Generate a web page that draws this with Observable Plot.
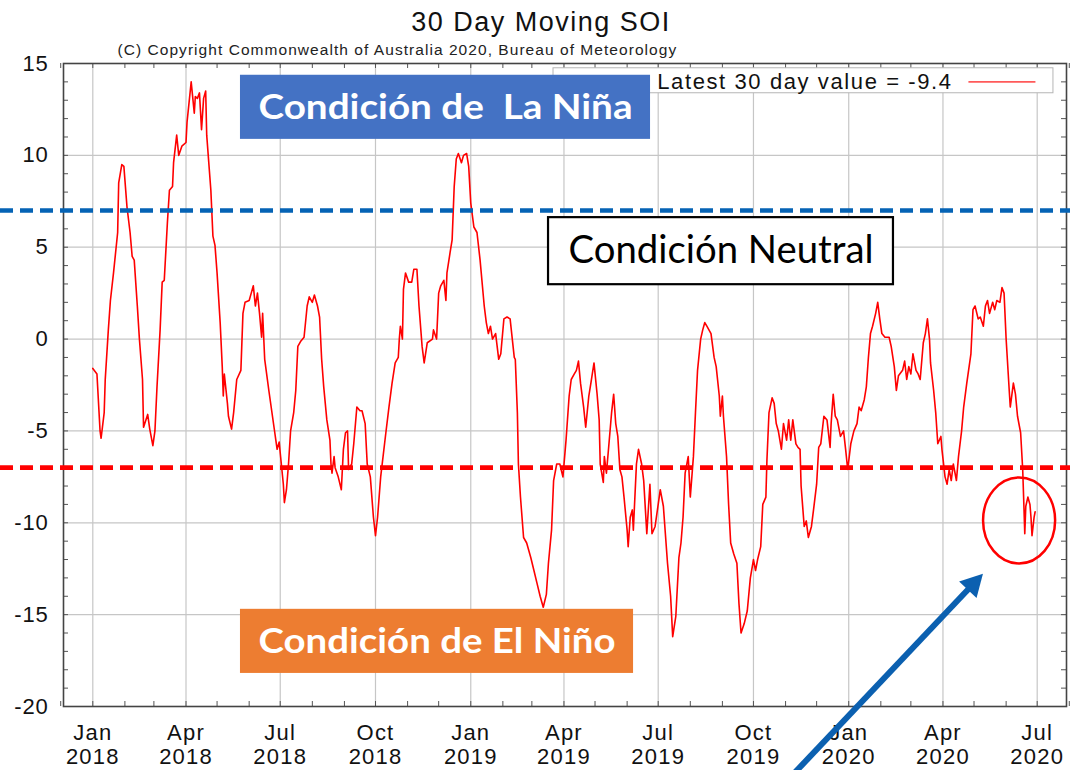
<!DOCTYPE html>
<html>
<head>
<meta charset="utf-8">
<script src="https://cdn.jsdelivr.net/npm/d3@7"></script>
<script src="https://cdn.jsdelivr.net/npm/@observablehq/plot@0.6"></script>
<style>
  html, body { margin: 0; padding: 0; background: #fff; }
  #chart svg { display: block; }
</style>
</head>
<body>
<div id="chart"></div>
<script>
// ---------- DATA ----------
// day offsets counted from 1 Jan 2018 (UTC)
const seriesStart = Date.UTC(2018, 0, 1);
const dayOffsets = [
  0,4,7,8,11,12,15,17,20,24,
  25,28,30,33,36,38,40,43,45,48,
  49,53,55,58,60,62,65,67,69,72,
  74,77,78,81,83,86,90,91,93,95,
  98,99,101,103,105,107,109,110,114,116,
  118,120,123,125,126,127,130,131,134,136,
  139,143,145,147,151,153,155,157,159,161,
  163,164,166,170,175,178,180,181,184,185,
  187,189,191,194,196,198,201,204,207,209,
  212,214,217,219,221,223,226,229,230,231,
  233,234,237,240,242,244,246,247,250,252,
  255,258,260,263,265,268,271,273,275,278,
  283,286,289,292,295,296,297,299,300,302,
  305,308,310,313,315,318,320,323,328,329,
  332,334,336,339,341,342,345,347,349,351,
  353,356,358,361,363,365,368,371,374,378,
  380,382,384,386,389,392,394,397,400,403,
  407,408,410,411,413,416,419,423,426,429,
  432,435,438,440,443,445,448,451,454,457,
  460,462,465,467,469,471,474,476,479,481,
  484,487,489,490,493,494,496,498,501,503,
  505,507,509,511,513,516,517,519,521,522,
  525,527,530,532,535,538,540,543,548,551,
  555,558,560,563,566,568,570,572,575,577,
  580,582,584,587,589,591,593,597,600,602,
  605,606,608,609,612,614,616,619,622,624,
  626,629,632,635,638,640,642,645,647,650,
  651,653,656,658,660,662,665,667,670,672,
  674,676,679,681,683,684,687,689,691,694,
  696,699,701,703,706,709,712,713,715,717,
  719,722,725,727,729,732,735,738,740,742,
  745,747,749,751,753,756,758,760,762,765,
  769,771,774,776,778,782,784,786,788,790,
  792,795,797,799,802,804,806,808,809,812,
  814,816,819,820,823,825,827,829,831,834,
  836,839,841,844,848,850,852,855,857,860,
  862,864,866,869,871,873,876,878,880,882,
  885,886,889,891,893,896,898,899,900,901,
  903,905,906,907,909,910
];
const soiValues = [
  -1.6,-1.9,-5.0,-5.4,-4.0,-2.2,0.5,2.1,3.6,5.8,
  8.5,9.5,9.4,7.2,5.8,4.5,4.3,1.8,0.0,-2.2,
  -4.8,-4.1,-4.9,-5.8,-5.0,-2.6,0.5,3.1,3.2,6.3,
  8.1,8.3,9.6,11.1,10.0,10.5,10.7,11.8,12.9,14.0,
  12.3,13.2,13.1,13.4,11.4,13.1,13.5,11.1,8.1,5.6,
  5.1,3.6,0.9,-1.5,-3.1,-1.9,-3.5,-4.2,-4.9,-4.0,
  -2.2,-1.7,1.4,2.0,2.1,2.5,2.9,1.8,2.5,1.4,
  0.1,1.4,-1.1,-2.8,-4.8,-6.0,-5.6,-6.2,-7.9,-8.9,
  -8.2,-6.8,-5.0,-4.0,-2.8,-0.4,-0.1,0.1,1.8,2.3,
  2.0,2.4,1.8,1.2,-1.1,-2.6,-4.4,-5.5,-6.8,-7.3,
  -6.4,-7.0,-7.5,-8.2,-6.0,-5.1,-5.0,-7.1,-6.8,-5.7,
  -3.7,-3.9,-3.9,-4.6,-6.8,-7.5,-9.7,-10.7,-9.7,-7.5,
  -5.1,-3.7,-2.4,-1.3,-1.0,0.0,0.7,0.0,2.7,3.6,
  3.1,3.1,3.8,3.8,1.8,-0.4,-1.3,-0.2,0.0,0.5,
  0.0,2.5,2.9,3.2,2.1,3.6,4.7,5.4,8.3,9.8,
  10.1,9.6,10.0,10.1,9.4,7.4,6.1,5.8,4.3,1.8,
  0.9,0.3,0.7,0.0,0.3,-1.1,-0.8,1.1,1.2,1.1,
  -1.0,-1.1,-4.0,-6.8,-8.6,-10.8,-11.1,-11.9,-12.6,-13.3,
  -14.0,-14.6,-13.9,-12.2,-10.4,-7.7,-6.8,-6.8,-7.5,-5.5,
  -3.1,-2.2,-1.9,-1.7,-1.2,-2.4,-3.7,-4.8,-3.1,-2.4,
  -1.3,-3.0,-4.4,-6.8,-7.8,-6.4,-7.3,-6.0,-4.0,-3.0,
  -4.6,-5.3,-7.1,-7.5,-8.6,-10.4,-11.3,-9.7,-9.3,-10.4,
  -6.8,-6.0,-6.8,-7.7,-10.6,-7.9,-10.6,-10.2,-8.2,-9.1,
  -12.2,-14.0,-16.2,-15.1,-11.9,-11.1,-9.7,-7.3,-6.4,-8.6,
  -6.4,-4.0,-1.7,0.0,0.5,0.9,0.7,0.3,-1.0,-1.5,
  -3.1,-4.2,-3.1,-4.2,-6.4,-9.0,-11.1,-11.7,-12.2,-14.4,
  -16.0,-15.5,-14.8,-13.0,-12.0,-12.6,-12.0,-11.3,-9.0,-8.6,
  -6.6,-4.0,-3.2,-3.5,-4.6,-5.0,-6.0,-4.6,-5.5,-4.4,
  -5.5,-4.4,-5.7,-5.9,-6.0,-8.0,-10.2,-9.9,-10.8,-10.2,
  -9.3,-7.9,-5.9,-5.7,-4.2,-4.4,-5.9,-4.6,-3.0,-4.2,
  -4.4,-5.3,-5.0,-6.0,-7.1,-5.7,-5.0,-4.6,-3.7,-3.9,
  -3.3,-2.6,-1.0,0.3,0.7,1.4,2.0,1.1,0.3,0.1,
  0.1,-0.4,-1.5,-2.8,-2.0,-1.7,-1.2,-2.2,-1.5,-1.9,
  -0.8,-1.7,-1.9,-2.2,-0.2,0.3,1.1,0.0,-1.3,-2.8,
  -4.0,-5.7,-5.3,-6.0,-7.5,-7.9,-7.1,-7.7,-6.8,-7.7,
  -6.4,-5.0,-3.7,-2.4,-0.8,1.6,1.8,1.1,1.2,0.7,
  1.8,2.1,1.4,2.0,1.6,2.1,2.0,2.8,2.5,0.0,
  -2.8,-3.7,-2.4,-3.0,-4.2,-5.1,-7.1,-8.8,-10.6,-9.1,
  -8.6,-9.0,-9.7,-10.7,-9.7,-9.4
];
const yTickValues = [-20, -15, -10, -5, 0, 5, 10, 15];
const monthNames = ["Jan", "Apr", "Jul", "Oct"];
const laNinaThreshold = 7;
const elNinoThreshold = -7;
const latestValue = -9.4;

const titleText = "30 Day Moving SOI";
const copyrightText = "(C) Copyright Commonwealth of Australia 2020, Bureau of Meteorology";
const legendText = `Latest 30 day value = ${latestValue}`;
const boxLabels = ["Condición de\u00a0 La Niña", "Condición Neutral", "Condición de El Niño"];

// ---------- LAYOUT / ANNOTATION PLACEMENT (data units) ----------
const W = 1070, H = 770, mL = 63, mR = 4, mT = 63, mB = 64;
const innerW = W - mL - mR, innerH = H - mT - mB;
const day = (d) => new Date(seriesStart + d * 864e5);

const soi = dayOffsets.map((d, i) => ({date: day(d), value: soiValues[i]}));

const quarterTicks = d3.utcMonth.every(3).range(day(0), day(913));
const monthTicks = d3.utcMonth.range(day(-31), day(945));
const minorY = d3.range(-20, 16);

const boxes = [
  {x1: 142.6, x2: 538.6, y1: 10.87, y2: 14.36, fill: "#4472C4", stroke: "none", label: boxLabels[0]},
  {x1: 440.1, x2: 773.2, y1: 2.96,  y2: 6.61,  fill: "white",   stroke: "black", label: boxLabels[1]},
  {x1: 142.6, x2: 522.2, y1: -18.2, y2: -14.71, fill: "#ED7D31", stroke: "none", label: boxLabels[2]}
];
const boxTextStyle = [
  {color: "white", weight: "bold", size: 35, width: 374},
  {color: "black", weight: "normal", size: 38, width: 305},
  {color: "white", weight: "bold", size: 35, width: 357}
];
const legendBox = {x1: 444.9, x2: 927.7, y1: 13.38, y2: 14.74, textX: 545.1, textY: 14.0, lineX1: 845.6, lineX2: 910.3};
const circleMark = {d: 895, v: -9.9, rd: 34.8, rv: 2.34};
const arrowMark = {d1: 673.8, v1: -23.9, d2: 860.1, v2: -12.8};

const axisFont = "'Liberation Sans', Arial, Helvetica, sans-serif";
const boxFont = "Lato, 'Open Sans', sans-serif";

const boxText = (i) => Plot.text([boxes[i]], {
  x: (d) => day((d.x1 + d.x2) / 2), y: (d) => (d.y1 + d.y2) / 2, text: "label",
  fill: boxTextStyle[i].color, fontFamily: boxFont, fontWeight: boxTextStyle[i].weight, fontSize: boxTextStyle[i].size
});

const chart = Plot.plot({
  width: W, height: H,
  marginLeft: mL, marginRight: mR, marginTop: mT, marginBottom: mB,
  style: {fontFamily: axisFont, background: "#fff", overflow: "visible"},
  x: {type: "utc", domain: [day(-28.3), day(940.3)], label: null},
  y: {domain: [-20, 15], label: null},
  marks: [
    Plot.gridX(quarterTicks, {stroke: "#c6c6c6", strokeOpacity: 1, strokeWidth: 1.2}),
    Plot.gridY(yTickValues, {stroke: "#c6c6c6", strokeOpacity: 1, strokeWidth: 1.2}),
    Plot.tickY(minorY, {insetRight: innerW - 5, stroke: "#555"}),
    Plot.tickY(minorY, {insetLeft: innerW - 5, stroke: "#555"}),
    Plot.tickX(monthTicks, {insetBottom: innerH - 5, stroke: "#555"}),
    Plot.tickX(monthTicks, {insetTop: innerH - 5, stroke: "#555"}),
    Plot.frame({stroke: "#444", strokeWidth: 1.6}),
    Plot.axisY(yTickValues, {tickSize: 0, tickPadding: 15, fontSize: 22, fill: "#111", tickFormat: (d) => String(d)}),
    Plot.axisX(quarterTicks, {
      tickSize: 0, tickPadding: 16, fontSize: 22, lineHeight: 1.1, fill: "#111",
      tickFormat: (d) => `${monthNames[d.getUTCMonth() / 3]}\n${d.getUTCFullYear()}`
    }),
    // title & copyright
    Plot.text([titleText], {frameAnchor: "top", dx: -24, dy: -41, lineAnchor: "middle", fontSize: 27, fill: "#111"}),
    Plot.text([copyrightText], {frameAnchor: "top-left", dx: 54, dy: -13, lineAnchor: "middle", textAnchor: "start", fontSize: 15.5, fill: "#222"}),
    // legend
    Plot.rect([legendBox], {x1: (d) => day(d.x1), x2: (d) => day(d.x2), y1: "y1", y2: "y2", fill: "white", stroke: "#b5b5b5", strokeWidth: 1}),
    Plot.text([legendBox], {x: (d) => day(d.textX), y: "textY", text: () => legendText, textAnchor: "start", fontSize: 22, fill: "#111"}),
    Plot.link([legendBox], {x1: (d) => day(d.lineX1), x2: (d) => day(d.lineX2), y1: "textY", y2: "textY", stroke: "#ff5a5a", strokeWidth: 1.6}),
    // data
    Plot.line(soi, {x: "date", y: "value", stroke: "#ff0000", strokeWidth: 1.6}),
    // thresholds
    Plot.ruleY([laNinaThreshold], {stroke: "#0563B5", strokeWidth: 4.5, strokeDasharray: "13 7", insetLeft: -mL, insetRight: -mR}),
    Plot.ruleY([elNinoThreshold], {stroke: "#ff0000", strokeWidth: 4.8, strokeDasharray: "13 7", insetLeft: -mL, insetRight: -mR}),
    // annotation boxes
    Plot.rect(boxes, {x1: (d) => day(d.x1), x2: (d) => day(d.x2), y1: "y1", y2: "y2", fill: "fill", stroke: "stroke", strokeWidth: 2.2}),
    boxText(0), boxText(1), boxText(2)
  ]
});

document.getElementById("chart").append(chart);

const svg = d3.select(chart);
// letter spacing / widths of the texts, matching the reference
const withText = (s) => svg.selectAll("text").filter(function () { return this.textContent === s; });
withText(titleText).attr("letter-spacing", 1.5);
withText(copyrightText).attr("letter-spacing", 1.05);
withText(legendText).attr("letter-spacing", 1.6);
svg.selectAll('g[aria-label="x-axis tick label"] text').attr("letter-spacing", 1.2);
svg.selectAll('g[aria-label="y-axis tick label"] text').attr("letter-spacing", 0.8);
boxes.forEach((b, i) => {
  withText(b.label).attr("textLength", boxTextStyle[i].width).attr("lengthAdjust", "spacingAndGlyphs");
});

// ellipse + arrow placed through the chart's own scales
const sx = chart.scale("x"), sy = chart.scale("y");
const cx = sx.apply(day(circleMark.d)), cy = sy.apply(circleMark.v);
const rx = sx.apply(day(circleMark.d + circleMark.rd)) - cx;
const ry = sy.apply(circleMark.v - circleMark.rv) - cy;
svg.append("ellipse")
  .attr("cx", cx).attr("cy", cy).attr("rx", rx).attr("ry", ry)
  .attr("fill", "none").attr("stroke", "#ff0000").attr("stroke-width", 2.5);

const ax1 = sx.apply(day(arrowMark.d1)), ay1 = sy.apply(arrowMark.v1);
const ax2 = sx.apply(day(arrowMark.d2)), ay2 = sy.apply(arrowMark.v2);
const len = Math.hypot(ax2 - ax1, ay2 - ay1);
const ux = (ax2 - ax1) / len, uy = (ay2 - ay1) / len;
const headL = 22, headW = 12;
const bx = ax2 - ux * headL, by = ay2 - uy * headL;
const arrowColor = "#0B60B0";
svg.append("line")
  .attr("x1", ax1).attr("y1", ay1).attr("x2", bx + ux * 2).attr("y2", by + uy * 2)
  .attr("stroke", arrowColor).attr("stroke-width", 6);
svg.append("polygon")
  .attr("points", [
    [ax2, ay2],
    [bx - uy * headW, by + ux * headW],
    [bx + uy * headW, by - ux * headW]
  ].map((p) => p.join(",")).join(" "))
  .attr("fill", arrowColor);
</script>
</body>
</html>
